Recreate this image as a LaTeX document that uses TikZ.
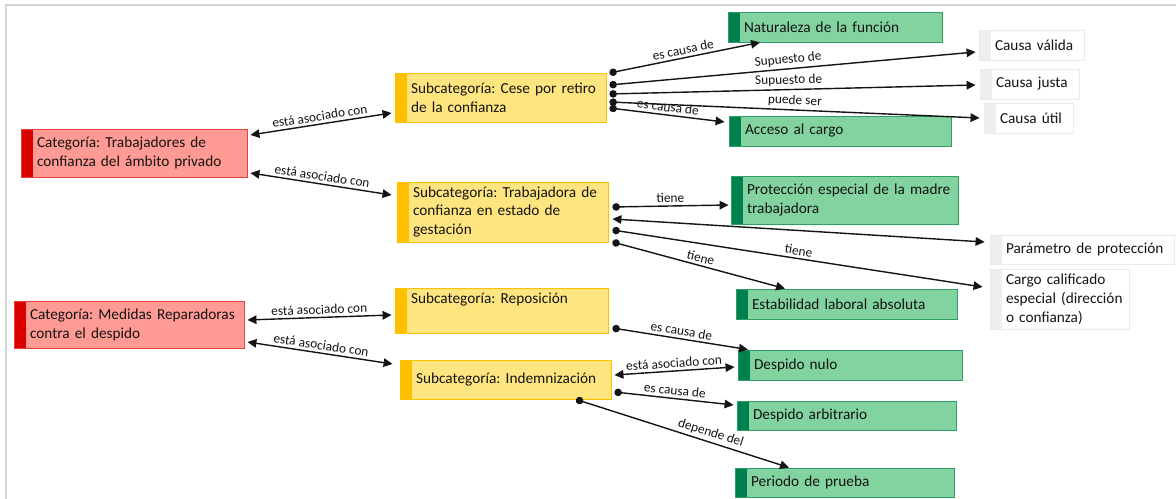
\documentclass[tikz,border=0pt]{standalone}
\usepackage{fontspec}
\setmainfont{Carlito}
\usetikzlibrary{arrows.meta}
\frenchspacing

\definecolor{redfill}{HTML}{FF9A94}
\definecolor{redbar}{HTML}{D90000}
\definecolor{redline}{HTML}{E8413B}
\definecolor{yelfill}{HTML}{FFE57F}
\definecolor{yelbar}{HTML}{FFC000}
\definecolor{grnfill}{HTML}{82D3A0}
\definecolor{grnbar}{HTML}{00804E}
\definecolor{grnline}{HTML}{2E9E64}
\definecolor{grybar}{HTML}{EEEEEE}
\definecolor{gryline}{HTML}{EAEAEA}
\definecolor{framecol}{HTML}{D4D4D4}
\definecolor{inkcol}{HTML}{141414}

\newcommand{\boxfont}{\fontsize{8.7}{10.8}\selectfont}
\newcommand{\linkfont}{\fontsize{7.6}{9}\selectfont}

\tikzset{
  conbox/.style={rectangle, draw, line width=0.5pt, align=left, inner xsep=0.08cm, inner ysep=0pt,
    font=\boxfont, text=inkcol,
    execute at begin node={\leftskip=0.24cm\rightskip=0pt plus 1fil minus 0.4cm}},
  sidebar/.style={path picture={\fill[#1] (path picture bounding box.north west) rectangle ([xshift=0.24cm]path picture bounding box.south west);}},
  catbox/.style={conbox, draw=redline, fill=redfill, sidebar=redbar},
  subbox/.style={conbox, draw=yelbar, fill=yelfill, sidebar=yelbar},
  grnbox/.style={conbox, draw=grnline, fill=grnfill, sidebar=grnbar},
  grybox/.style={conbox, draw=gryline, fill=white, sidebar=grybar},
  lbl/.style={font=\linkfont, text=inkcol, sloped, above, inner sep=1.5pt},
  dotarrow/.style={arrows={{Circle[length=0.15cm]}-{Triangle[length=0.18cm,width=0.17cm]}}},
  twoarrow/.style={arrows={{Triangle[length=0.18cm,width=0.17cm]}-{Triangle[length=0.18cm,width=0.17cm]}}}
}

\begin{document}
\begin{tikzpicture}[x=0.02cm, y=-0.02cm]

\useasboundingbox (0,0) rectangle (1176,499);
\draw[framecol, line width=0.04cm] (6,499) -- (6,5) -- (1176,5);

% categorias
\node[catbox, text width=4.36cm, minimum height=0.96cm] (cat1) at (134,153) {Categoría: Trabajadores de\\ confianza del ámbito privado};
\node[catbox, text width=4.44cm, minimum height=0.94cm] (cat2) at (129,324.5) {Categoría: Medidas Reparadoras\\ contra el despido};

% subcategorias
\node[subbox, text width=4.06cm, minimum height=0.98cm] (sub1) at (500.5,97.5) {Subcategoría: Cese por retiro\\ de la confianza};
\node[subbox, text width=4.06cm, minimum height=1.2cm] (sub2) at (502.5,212) {Subcategoría: Trabajadora de\\ confianza en estado de\\ gestación};
\node[subbox, text width=4.10cm, minimum height=0.9cm] (sub3) at (501.5,310.5) {Subcategoría: Reposición\\ \strut};
\node[subbox, text width=4.06cm, minimum height=0.78cm] (sub4) at (505.5,379.5) {Subcategoría: Indemnización};

% codigos
\node[grnbox, text width=4.12cm, minimum height=0.6cm] (nat) at (835,27) {Naturaleza de la función};
\node[grnbox, text width=4.28cm, minimum height=0.6cm] (acc) at (840,131) {Acceso al cargo};
\node[grnbox, text width=4.38cm, minimum height=0.96cm] (prot) at (844.5,200) {Protección especial de la madre\\ trabajadora};
\node[grnbox, text width=4.26cm, minimum height=0.6cm] (estab) at (846.5,304) {Estabilidad laboral absoluta};
\node[grnbox, text width=4.32cm, minimum height=0.6cm] (nulo) at (850,365) {Despido nulo};
\node[grnbox, text width=4.22cm, minimum height=0.58cm] (arb) at (846.5,415.5) {Despido arbitrario};
\node[grnbox, text width=4.22cm, minimum height=0.58cm] (per) at (844.5,482.5) {Periodo de prueba};

\node[grybox, text width=1.94cm, minimum height=0.6cm] (valida) at (1031.5,45) {Causa válida};
\node[grybox, text width=1.82cm, minimum height=0.6cm] (justa) at (1029.5,84) {Causa justa};
\node[grybox, text width=1.62cm, minimum height=0.6cm] (util) at (1028.5,118) {Causa útil};
\node[grybox, text width=3.52cm, minimum height=0.58cm] (param) at (1082,249.5) {Parámetro de protección};
\node[grybox, text width=2.62cm, minimum height=1.2cm] (cargo) at (1059.5,299) {Cargo calificado\\ especial (dirección\\ o confianza)};

\begin{scope}[line width=0.8pt, draw=inkcol]
\draw[twoarrow] ([xshift=0.06cm,yshift=0.36cm]cat1.east) -- ([xshift=-0.06cm,yshift=-0.31cm]sub1.west) node[lbl, midway] {está asociado con}; %cat1-sub1
\draw[twoarrow] ([xshift=0.06cm,yshift=-0.4cm]cat1.east) -- ([xshift=-0.1cm,yshift=0.34cm]sub2.west) node[lbl, midway] {está asociado con}; %cat1-sub2
\draw[twoarrow] ([xshift=0.06cm,yshift=0.09cm]cat2.east) -- ([xshift=-0.06cm,yshift=-0.09cm]sub3.west) node[lbl, midway] {está asociado con}; %cat2-sub3
\draw[twoarrow] ([xshift=0.06cm,yshift=-0.35cm]cat2.east) -- ([xshift=-0.14cm,yshift=0.31cm]sub4.west) node[lbl, midway] {está asociado con}; %cat2-sub4

\draw[dotarrow] ([xshift=0.06cm,yshift=0.49cm]sub1.east) -- ([xshift=-1.5cm]nat.south) node[lbl, midway] {es causa de}; %sub1-nat
\draw[dotarrow] ([xshift=0.06cm,yshift=0.25cm]sub1.east) -- ([xshift=-0.06cm,yshift=-0.14cm]valida.west) node[lbl, pos=0.49] {Supuesto de}; %sub1-valida
\draw[dotarrow] ([xshift=0.06cm,yshift=0.07cm]sub1.east) -- ([xshift=-0.08cm,yshift=-0.02cm]justa.west) node[lbl, pos=0.49] {Supuesto de}; %sub1-justa
\draw[dotarrow] ([xshift=0.06cm,yshift=-0.09cm]sub1.east) -- ([xshift=-0.08cm]util.west) node[lbl, pos=0.5] {puede ser}; %sub1-util
\draw[dotarrow] ([xshift=0.06cm,yshift=-0.21cm]sub1.east) -- ([xshift=-0.08cm,yshift=0.18cm]acc.west) node[lbl, midway] {es causa de}; %sub1-acc

\draw[dotarrow] ([xshift=0.08cm,yshift=0.1cm]sub2.east) -- ([xshift=-0.04cm,yshift=-0.1cm]prot.west) node[lbl, midway] {tiene}; %sub2-prot
\draw[twoarrow] ([xshift=0.08cm,yshift=-0.14cm]sub2.east) -- ([xshift=-0.1cm,yshift=0.15cm]param.west); %sub2-param
\draw[dotarrow] ([xshift=0.08cm,yshift=-0.36cm]sub2.east) -- ([xshift=-0.14cm,yshift=0.24cm]cargo.west) node[lbl, midway] {tiene}; %sub2-cargo
\draw[dotarrow] ([xshift=0.08cm,yshift=-0.6cm]sub2.east) -- ([xshift=-1.23cm]estab.north) node[lbl, midway] {tiene}; %sub2-estab

\draw[dotarrow] ([xshift=0.08cm,yshift=-0.35cm]sub3.east) -- ([xshift=-2.04cm]nulo.north) node[lbl, midway] {es causa de}; %sub3-nulo
\draw[twoarrow] ([xshift=0.06cm,yshift=0.09cm]sub4.east) -- ([xshift=-0.06cm,yshift=-0.04cm]nulo.west) node[lbl, midway] {está asociado con}; %sub4-nulo
\draw[dotarrow] ([xshift=0.06cm,yshift=-0.25cm]sub4.east) -- ([xshift=-0.06cm,yshift=0.21cm]arb.west) node[lbl, midway] {es causa de}; %sub4-arb
\draw[dotarrow] ([xshift=1.41cm]sub4.south) -- ([xshift=-1.11cm]per.north) node[lbl, pos=0.62] {depende del}; %sub4-per
\end{scope}

\end{tikzpicture}
\end{document}
